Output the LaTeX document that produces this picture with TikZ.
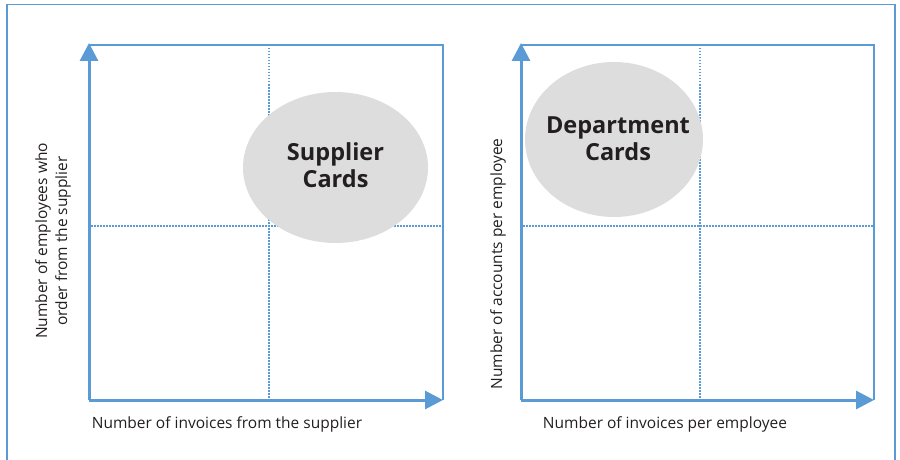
\documentclass[tikz,border=0pt]{standalone}
\usepackage{fontspec}
\setmainfont{Open Sans}
\usetikzlibrary{arrows.meta,shapes.geometric}
\definecolor{axisblue}{RGB}{91,155,213}
\definecolor{cardgray}{RGB}{221,221,221}
\definecolor{textdark}{RGB}{35,31,32}

\begin{document}
\begin{tikzpicture}[x=1pt,y=-1pt,
  frameline/.style={draw=axisblue, line width=1.3pt},
  boxline/.style={draw=axisblue, line width=1.3pt},
  axisline/.style={draw=axisblue, line width=3pt, -{Triangle[length=18pt,width=18pt]}},
  gridline/.style={draw=axisblue, line width=1.7pt, dash pattern=on 1.5pt off 1.5pt},
  card/.style={ellipse, fill=cardgray, inner sep=0pt},
  cardtext/.style={font=\bfseries\fontsize{23.5}{27}\selectfont, align=center, text=textdark},
  axislabel/.style={font=\fontsize{15.5}{20}\selectfont, text=textdark, align=center, inner sep=0pt},
]
\useasboundingbox (0,0) rectangle (900,460);

% outer frame, open at the bottom
\coordinate (fbl) at (7,460);
\coordinate (ftl) at (7,4.5);
\coordinate (ftr) at (895,4.5);
\coordinate (fbr) at (895,460);
\draw[frameline] (fbl) -- (ftl) -- (ftr) -- (fbr);

% ---------- left chart ----------
\coordinate (lo)  at (89,400);
\coordinate (ltop) at (89,43);
\coordinate (lright) at (443,400);
\coordinate (ltl) at (89,45);
\coordinate (ltr) at (443,45);
\coordinate (lbr) at (443,400);
\coordinate (lvt) at (269,45);
\coordinate (lvb) at (269,400);
\coordinate (lhl) at (91,226);
\coordinate (lhr) at (443,226);

\draw[boxline] (ltl) -- (ltr) -- (lbr);
\draw[gridline] (lvt) -- (lvb);
\draw[gridline] (lhl) -- (lhr);
\node[card, minimum width=185pt, minimum height=151pt] (supcard) at (335.5,167.5) {};
\node[cardtext] (suptext) at (335.5,165) {Supplier\\Cards};
\draw[axisline] (lo) -- (ltop);
\draw[axisline] (lo) -- (lright);

\node[axislabel] (lxlabel) at (227,424) {Number of invoices from the supplier};
\node[axislabel, rotate=90] (lylabel) at (53,241) {Number of employees who\\order from the supplier};

% ---------- right chart ----------
\coordinate (ro)  at (521,400);
\coordinate (rtop) at (521,43);
\coordinate (rright) at (874,400);
\coordinate (rtl) at (521,45);
\coordinate (rtr) at (874,45);
\coordinate (rbr) at (874,400);
\coordinate (rvt) at (700,45);
\coordinate (rvb) at (700,400);
\coordinate (rhl) at (523,226);
\coordinate (rhr) at (874,226);

\draw[boxline] (rtl) -- (rtr) -- (rbr);
\draw[gridline] (rvt) -- (rvb);
\draw[gridline] (rhl) -- (rhr);
\node[card, minimum width=178pt, minimum height=155pt] (depcard) at (614,139.5) {};
\node[cardtext] (deptext) at (618,139) {Department\\Cards};
\draw[axisline] (ro) -- (rtop);
\draw[axisline] (ro) -- (rright);

\node[axislabel] (rxlabel) at (665,424) {Number of invoices per employee};
\node[axislabel, rotate=90] (rylabel) at (498,264) {Number of accounts per employee};
\end{tikzpicture}
\end{document}
